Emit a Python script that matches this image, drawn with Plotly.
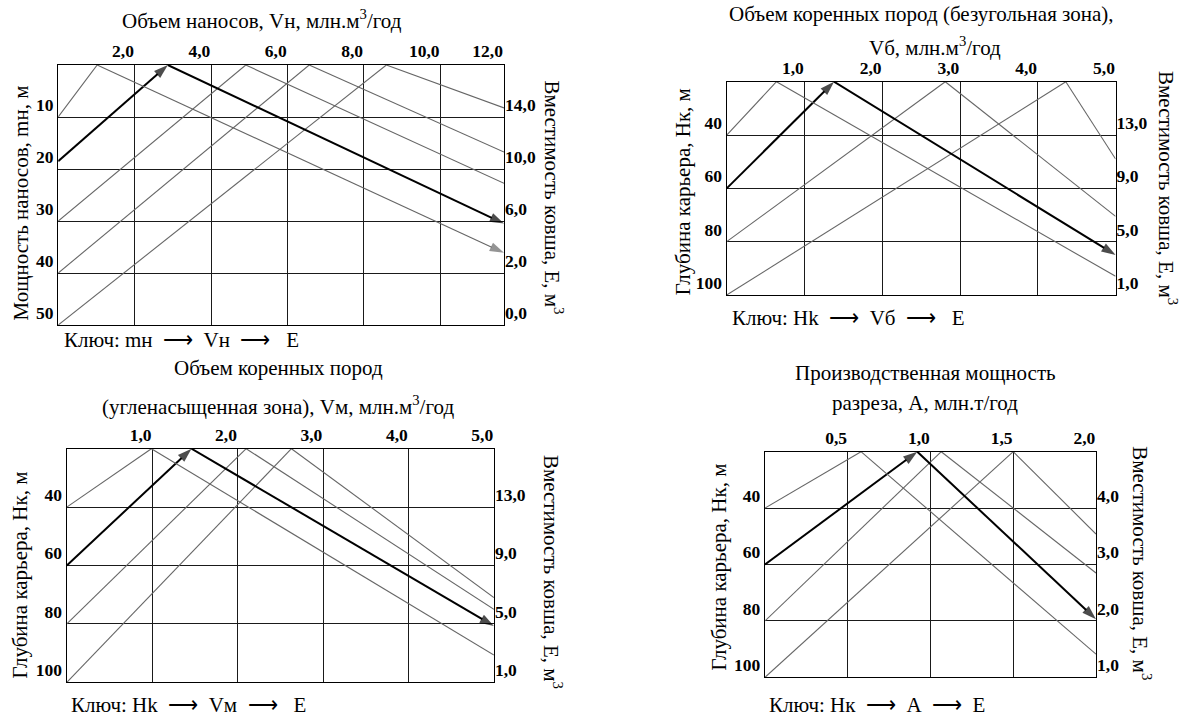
import plotly.graph_objects as go

W, H = 1188, 717

# ---------------- data ----------------
# Panel 1: Объем наносов
p1_x_ticks = [2, 4, 6, 8, 10, 11.66]
p1_x_labels = ["2,0", "4,0", "6,0", "8,0", "10,0", "12,0"]
p1_y_ticks = [10, 20, 30, 40, 50]
p1_y_labels = ["10", "20", "30", "40", "50"]
p1_e_ticks = [14, 10, 6, 2, -2]
p1_e_labels = ["14,0", "10,0", "6,0", "2,0", "0,0"]
p1_start = [10, 18.5, 30, 40, 50]          # mн, м
p1_peak = [1.02, 2.87, 4.91, 6.57, 8.59]   # Vн
p1_end = [3.55, 5.8, 8.9, 11.3, 14.7]      # E

# Panel 2: безугольная зона
p2_x_ticks = [1, 2, 3, 4, 5]
p2_x_labels = ["1,0", "2,0", "3,0", "4,0", "5,0"]
p2_y_ticks = [40, 60, 80, 100]
p2_y_labels = ["40", "60", "80", "100"]
p2_e_ticks = [13, 9, 5, 1]
p2_e_labels = ["13,0", "9,0", "5,0", "1,0"]
p2_start = [40, 60, 80, 100]
p2_peak = [0.64, 1.38, 2.81, 4.36]
p2_end = [2.4, 4.0, 6.9, 11.2]

# Panel 3: угленасыщенная зона
p3_x_ticks = [1, 2, 3, 4, 5]
p3_x_labels = ["1,0", "2,0", "3,0", "4,0", "5,0"]
p3_y_ticks = [40, 60, 80, 100]
p3_y_labels = ["40", "60", "80", "100"]
p3_e_ticks = [13, 9, 5, 1]
p3_e_labels = ["13,0", "9,0", "5,0", "1,0"]
p3_start = [40, 60, 80, 100]
p3_peak = [0.99, 1.46, 2.1, 2.63]
p3_end = [2.87, 4.86, 6.0, 6.8]

# Panel 4: производственная мощность
p4_x_ticks = [0.5, 1.0, 1.5, 2.0]
p4_x_labels = ["0,5", "1,0", "1,5", "2,0"]
p4_y_ticks = [40, 60, 80, 100]
p4_y_labels = ["40", "60", "80", "100"]
p4_e_ticks = [4, 3, 2, 1]
p4_e_labels = ["4,0", "3,0", "2,0", "1,0"]
p4_start = [40, 60, 80, 100]
p4_peak = [0.58, 0.92, 1.065, 1.5]
p4_end = [1.41, 2.03, 2.85, 3.54]

# ---------------- layout helpers ----------------
def px(x):
    return x / W

def py(y):
    return 1 - y / H

SERIF = "Liberation Serif"
panels = [
    dict(box=(58.2, 65, 504.0, 325), xr=[0, 11.67], yr=[50, 0], er=[-2, 18],
         xt=p1_x_ticks, xl=p1_x_labels, yt=p1_y_ticks, yl=p1_y_labels,
         et=p1_e_ticks, el=p1_e_labels, start=p1_start, peak=p1_peak, end=p1_end,
         thick=1, thin_arrows=[0]),
    dict(box=(726.7, 81.7, 1115.6, 295), xr=[0, 5], yr=[100, 20], er=[1, 17],
         xt=p2_x_ticks, xl=p2_x_labels, yt=p2_y_ticks, yl=p2_y_labels,
         et=p2_e_ticks, el=p2_e_labels, start=p2_start, peak=p2_peak, end=p2_end,
         thick=1, thin_arrows=[]),
    dict(box=(66.8, 448.7, 493.9, 682.3), xr=[0, 5], yr=[100, 20], er=[1, 17],
         xt=p3_x_ticks, xl=p3_x_labels, yt=p3_y_ticks, yl=p3_y_labels,
         et=p3_e_ticks, el=p3_e_labels, start=p3_start, peak=p3_peak, end=p3_end,
         thick=1, thin_arrows=[]),
    dict(box=(765, 451.7, 1096, 677.3), xr=[0, 2], yr=[100, 20], er=[1, 5],
         xt=p4_x_ticks, xl=p4_x_labels, yt=p4_y_ticks, yl=p4_y_labels,
         et=p4_e_ticks, el=p4_e_labels, start=p4_start, peak=p4_peak, end=p4_end,
         thick=1, thin_arrows=[]),
]

fig = go.Figure()
layout = {}
annotations = []
tickfont = dict(family=SERIF, size=17.5, color="black", weight="bold")
THIN = "#666666"

for i, p in enumerate(panels):
    xa = "x" if i == 0 else f"x{i+1}"
    yl_id = "y" if i == 0 else f"y{2*i+1}"
    yr_id = f"y{2*i+2}"
    xkey = "xaxis" if i == 0 else f"xaxis{i+1}"
    ylkey = "yaxis" if i == 0 else f"yaxis{2*i+1}"
    yrkey = f"yaxis{2*i+2}"
    x0, y0, x1, y1 = p["box"]
    layout[xkey] = dict(domain=[px(x0), px(x1)], range=p["xr"], side="top", anchor=yl_id,
                        tickmode="array", tickvals=p["xt"], ticktext=p["xl"],
                        ticklabelposition="outside left", ticks="", showgrid=True,
                        gridcolor="#1a1a1a", gridwidth=1.2, showline=True, linecolor="black",
                        linewidth=1.4, mirror=True, zeroline=False, tickfont=tickfont,
                        fixedrange=True)
    layout[ylkey] = dict(domain=[py(y1), py(y0)], range=p["yr"], anchor=xa,
                         tickmode="array", tickvals=p["yt"], ticktext=p["yl"],
                         ticklabelposition="outside top", ticks="", showgrid=True,
                         gridcolor="#1a1a1a", gridwidth=1.2, showline=True, linecolor="black",
                         linewidth=1.4, mirror=True, zeroline=False, tickfont=tickfont,
                         fixedrange=True)
    layout[yrkey] = dict(overlaying=yl_id, side="right", anchor=xa, range=p["er"],
                         tickmode="array", tickvals=p["et"], ticktext=p["el"],
                         ticklabelposition="outside top", ticks="", showgrid=False,
                         showline=False, zeroline=False, tickfont=tickfont, fixedrange=True)
    ytop = p["yr"][1]
    etop = p["er"][1]
    xmax = p["xr"][1]
    for k, (s, pk, e) in enumerate(zip(p["start"], p["peak"], p["end"])):
        thick = (k == p["thick"])
        col = "black" if thick else THIN
        wid = 2 if thick else 1.1
        up_arrow = thick
        down_arrow = thick or (k in p["thin_arrows"])
        fig.add_trace(go.Scatter(
            x=[0, pk], y=[s, ytop], xaxis=xa, yaxis=yl_id,
            mode="lines+markers" if up_arrow else "lines",
            line=dict(color=col, width=wid),
            marker=dict(symbol="arrow", angleref="previous", size=[0, 15],
                        color=col, line=dict(width=0)),
            hoverinfo="skip", showlegend=False))
        fig.add_trace(go.Scatter(
            x=[pk, xmax], y=[etop, e], xaxis=xa, yaxis=yr_id,
            mode="lines+markers" if down_arrow else "lines",
            line=dict(color=col, width=wid),
            marker=dict(symbol="arrow", angleref="previous", size=[0, 15],
                        color=col, line=dict(width=0)),
            hoverinfo="skip", showlegend=False))

# ---------------- texts ----------------
NB = "\u00a0"
ARW = NB + NB + "\u27f6" + NB + NB
texts = [
    # (text, x_px, y_px, angle, xanchor)
    ("Объем наносов, Vн, млн.м<sup>3</sup>/год", 262, 20, 0, "center"),
    ("Мощность наносов, mн, м", 21.4, 203, -90, "center"),
    ("Вместимость ковша, E, м<sup>3</sup>", 553.6, 197, 90, "center"),
    ("Ключ: mн" + ARW + "Vн" + ARW + NB + "E", 62.7, 340, 0, "left"),

    ("Объем коренных пород (безугольная зона),", 921.7, 14, 0, "center"),
    ("Vб, млн.м<sup>3</sup>/год", 935, 46.5, 0, "center"),
    ("Глубина карьера, Hк, м", 682.5, 191.7, -90, "center"),
    ("Вместимость ковша, E, м<sup>3</sup>", 1168, 188, 90, "center"),
    ("Ключ: Hk" + ARW + "Vб" + ARW + NB + "E", 730.5, 318, 0, "left"),

    ("Объем коренных пород", 278.6, 368.3, 0, "center"),
    ("(угленасыщенная зона), Vм, млн.м<sup>3</sup>/год", 277.7, 405, 0, "center"),
    ("Глубина карьера, Hк, м", 19.6, 575, -90, "center"),
    ("Вместимость ковша, E, м<sup>3</sup>", 551.8, 571.7, 90, "center"),
    ("Ключ: Hk" + ARW + "Vм" + ARW + NB + "E", 69.6, 704.5, 0, "left"),

    ("Производственная мощность", 925.3, 373.3, 0, "center"),
    ("разреза, А, млн.т/год", 925.3, 403.3, 0, "center"),
    ("Глубина карьера, Hк, м", 718.1, 567.5, -90, "center"),
    ("Вместимость ковша, E, м<sup>3</sup>", 1141.8, 563, 90, "center"),
    ("Ключ: Hк" + ARW + "А" + ARW + "E", 768.3, 704.5, 0, "left"),
]
for t, x, y, ang, xanc in texts:
    annotations.append(dict(text=t, x=px(x), y=py(y), xref="paper", yref="paper",
                            xanchor=xanc, yanchor="middle", textangle=ang,
                            showarrow=False, borderpad=0,
                            font=dict(family=SERIF, size=21, color="black")))

fig.update_layout(**layout)
fig.update_layout(width=W, height=H, autosize=False,
                  margin=dict(l=0, r=0, t=0, b=0, pad=0),
                  paper_bgcolor="white", plot_bgcolor="white",
                  showlegend=False, annotations=annotations)

fig.write_html("out.html", config={"displayModeBar": False},
               post_script="document.body.style.margin='0';document.body.style.overflow='hidden';")
